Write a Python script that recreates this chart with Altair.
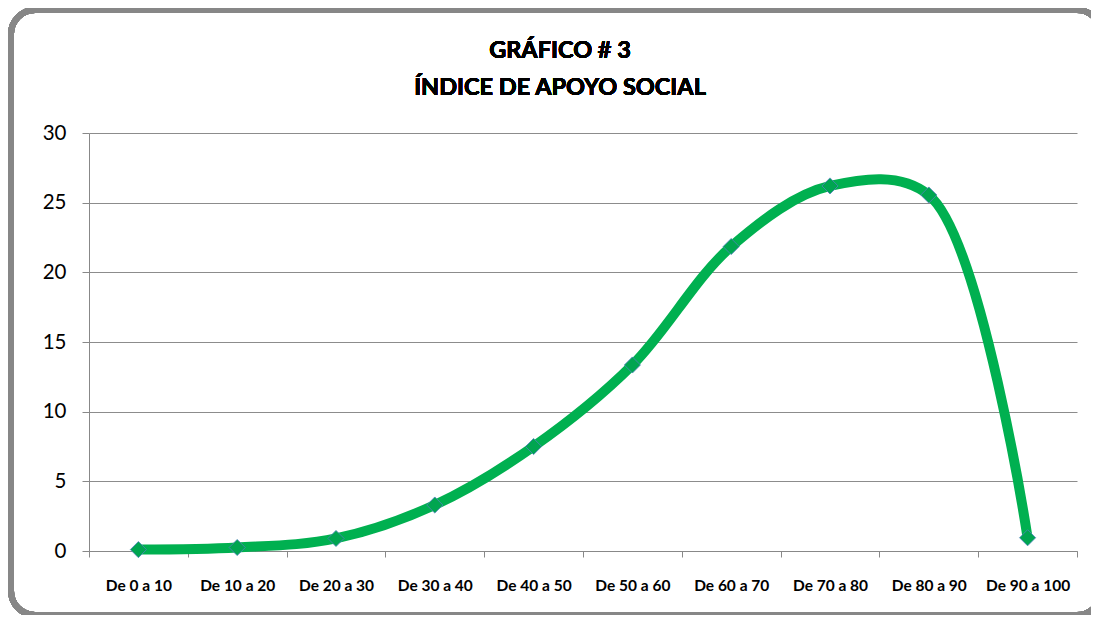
import altair as alt
import pandas as pd

categories = ["De 0 a 10", "De 10 a 20", "De 20 a 30", "De 30 a 40", "De 40 a 50",
              "De 50 a 60", "De 60 a 70", "De 70 a 80", "De 80 a 90", "De 90 a 100"]
values = [0.1, 0.25, 0.9, 3.3, 7.5, 13.35, 21.85, 26.2, 25.55, 0.95]
title_lines = ["GRÁFICO # 3", "ÍNDICE DE APOYO SOCIAL"]

df = pd.DataFrame({"cat": categories, "val": values})

FONT = "Lato"
W, H = 988, 418

xenc = alt.X("cat:N", sort=categories, title=None,
             scale=alt.Scale(type="band", paddingInner=0, paddingOuter=0),
             axis=alt.Axis(labelAngle=0, tickBand="extent", grid=False,
                           domainColor="#888888", tickColor="#888888", tickSize=6,
                           labelFont=FONT, labelFontSize=15.5, labelFontWeight="bold",
                           labelColor="#000000", labelPadding=21))
yenc = alt.Y("val:Q", title=None,
             scale=alt.Scale(domain=[0, 30], nice=False),
             axis=alt.Axis(values=[0, 5, 10, 15, 20, 25, 30], grid=True,
                           gridColor="#8c8c8c", domainColor="#888888",
                           tickColor="#888888", tickSize=7,
                           labelFont=FONT, labelFontSize=20.5, labelColor="#000000",
                           labelPadding=16))

frame = alt.Chart(df).mark_rect(fill=None, stroke="#878787", strokeWidth=6,
                                cornerRadius=24).encode(
    x=alt.value(-78), x2=alt.value(1012), y=alt.value(-123), y2=alt.value(482))

t1 = alt.Chart(df).mark_text(text=title_lines[0], font=FONT, fontSize=23.5,
                             fontWeight="bold", color="#000000", align="center",
                             baseline="alphabetic").encode(
    x=alt.value(471), y=alt.value(-75))
t2 = alt.Chart(df).mark_text(text=title_lines[1], font=FONT, fontSize=23.5,
                             fontWeight="bold", color="#000000", align="center",
                             baseline="alphabetic").encode(
    x=alt.value(471), y=alt.value(-38))

line = alt.Chart(df).mark_line(color="#00B050", strokeWidth=10,
                               interpolate="catmull-rom").encode(x=xenc, y=yenc)
pts = alt.Chart(df).mark_point(shape="diamond", filled=True, size=260,
                               fill="#00A550", stroke="#4F81BD", strokeWidth=0.8,
                               opacity=1).encode(x=xenc, y=yenc)

chart = alt.layer(frame, t1, t2, line, pts).properties(
    width=W, height=H,
    padding={"left": 81, "top": 125, "right": 14, "bottom": 64},
    autosize=alt.AutoSizeParams(type="none"),
).configure_view(stroke=None)

chart.save("out.html", embed_options={"renderer": "svg", "actions": False})
